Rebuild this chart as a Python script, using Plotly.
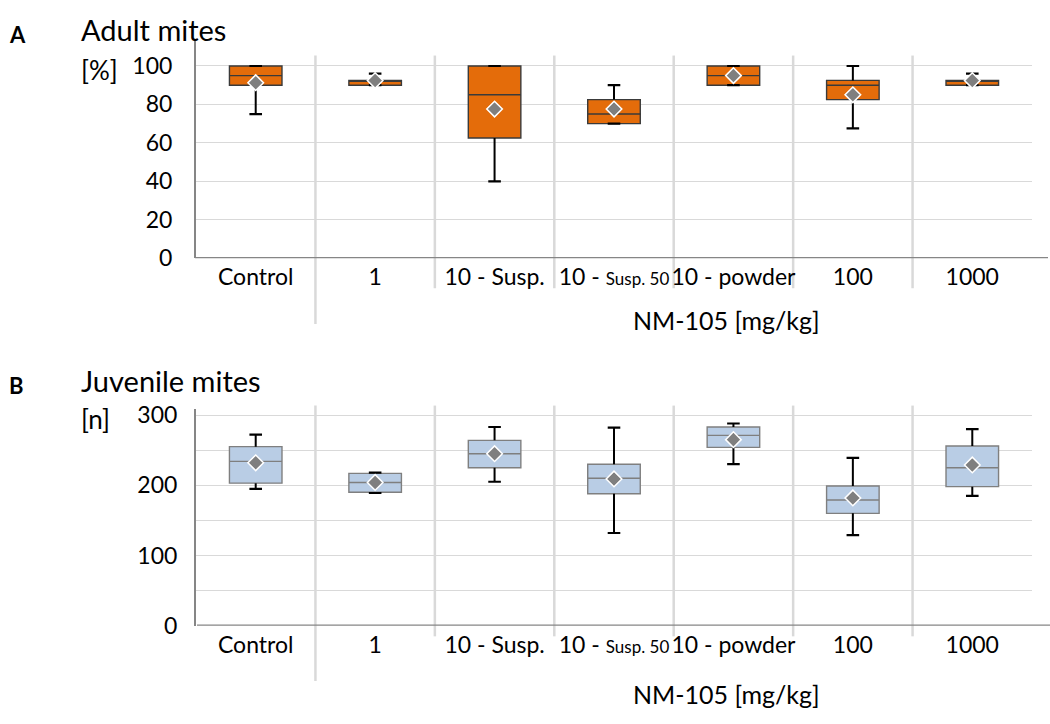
import plotly.graph_objects as go

# ---------------- data ----------------
categories = ["Control", "1", "10 - Susp.", "10 - Susp. 50", "10 - powder", "100", "1000"]
tick_labels = ["Control", "1", "10 - Susp.",
               "10 - <span style='font-size:17px'>Susp. 50</span>",
               "10 - powder", "100", "1000"]

adult_lower = [75, 90, 40, 70, 90, 67.5, 90]
adult_q1 = [90, 90, 62.5, 70, 90, 82.5, 90]
adult_median = [95, 92.5, 85, 75, 95, 90, 92.5]
adult_q3 = [100, 92.5, 100, 82.5, 100, 92.5, 92.5]
adult_upper = [100, 96, 100, 90, 100, 100, 96]
adult_mean = [91.3, 92.4, 77.6, 77.6, 95, 85, 92.4]

juv_lower = [195, 189, 205, 132, 230, 129, 185]
juv_q1 = [203, 190, 225, 188, 254, 160, 198]
juv_median = [234, 204, 245, 210, 271, 179, 225]
juv_q3 = [255, 217, 264, 230, 283, 199, 256]
juv_upper = [272, 218, 283, 282, 288, 239, 280]
juv_mean = [232, 204, 245, 209, 265, 182, 229]

adult_yticks = [0, 20, 40, 60, 80, 100]
juv_yticks = [0, 50, 100, 150, 200, 250, 300]
juv_yticklabels = ["0", "", "100", "", "200", "", "300"]

# ---------------- layout helpers ----------------
W, H = 1050, 724
ML = 196
MR = W - 1032
PW = W - ML - MR


def px_x(px):
    return (px - ML) / PW


def px_y(py):
    return (H - py) / H


FONT = "Lato"
ORANGE = "#E46C0A"
BLUE = "#B9CDE5"
GRID = "#D9D9D9"
AXIS = "#868686"
TICK = 23

fig = go.Figure()


def add_panel(xa, ya, lower, q1, med, q3, upper, mean, fill, edge):
    fig.add_trace(go.Box(
        x=categories, q1=q1, median=med, q3=q3,
        lowerfence=q1, upperfence=q3,
        fillcolor=fill, line=dict(color=edge, width=1.4),
        whiskerwidth=0, width=0.44, boxpoints=False,
        xaxis=xa, yaxis=ya, showlegend=False, hoverinfo="skip"))
    wx, wy = [], []
    for c, lo, a, b, hi in zip(categories, lower, q1, q3, upper):
        wx += [c, c, None, c, c, None]
        wy += [b, hi, None, a, lo, None]
    fig.add_trace(go.Scatter(
        x=wx, y=wy, mode="lines", line=dict(color="black", width=2),
        xaxis=xa, yaxis=ya, showlegend=False, hoverinfo="skip"))
    fig.add_trace(go.Scatter(
        x=categories + categories, y=list(upper) + list(lower), mode="markers",
        marker=dict(symbol="line-ew", size=9, line=dict(color="black", width=2.2)),
        xaxis=xa, yaxis=ya, showlegend=False, hoverinfo="skip"))
    fig.add_trace(go.Scatter(
        x=categories, y=mean, mode="markers",
        marker=dict(symbol="diamond", size=12, color="#7F7F7F",
                    line=dict(color="white", width=1.5)),
        xaxis=xa, yaxis=ya, showlegend=False, hoverinfo="skip"))


add_panel("x", "y", adult_lower, adult_q1, adult_median, adult_q3, adult_upper,
          adult_mean, ORANGE, "#3A3A3A")
add_panel("x2", "y2", juv_lower, juv_q1, juv_median, juv_q3, juv_upper,
          juv_mean, BLUE, "#7F7F7F")

xcommon = dict(type="category", categoryorder="array", categoryarray=categories,
               tickmode="array", tickvals=categories, ticktext=tick_labels,
               range=[-0.5, 6.5], showgrid=False, zeroline=False, showline=False,
               ticks="", ticklabelstandoff=3, tickangle=0,
               tickfont=dict(family=FONT, size=TICK, color="black"))

fig.update_layout(
    width=W, height=H,
    margin=dict(l=ML, r=MR, t=0, b=0),
    paper_bgcolor="white", plot_bgcolor="white",
    font=dict(family=FONT, color="black"),
    xaxis=dict(anchor="y", domain=[0, 1], **xcommon),
    xaxis2=dict(anchor="y2", domain=[0, 1], **xcommon),
    yaxis=dict(anchor="x", domain=[px_y(257), px_y(33)], range=[0, 113],
               tickmode="array", tickvals=adult_yticks,
               showgrid=True, gridcolor=GRID, gridwidth=1, zeroline=False,
               showline=True, linecolor=AXIS, linewidth=2, ticks="",
               ticklabelstandoff=17,
               tickfont=dict(family=FONT, size=TICK, color="black")),
    yaxis2=dict(anchor="x2", domain=[px_y(636), px_y(413)], range=[0, 308],
                tickmode="array", tickvals=juv_yticks, ticktext=juv_yticklabels,
                showgrid=True, gridcolor=GRID, gridwidth=1, zeroline=False,
                showline=True, linecolor=AXIS, linewidth=2, ticks="",
                ticklabelstandoff=12,
                tickfont=dict(family=FONT, size=TICK, color="black")),
)

shapes = []
# category separators
for i in range(6):
    shapes.append(dict(type="line", xref="x", yref="paper", x0=i + 0.5, x1=i + 0.5,
                       y0=px_y(48), y1=px_y(325 if i == 0 else 288),
                       line=dict(color=GRID, width=2.5), layer="below"))
    shapes.append(dict(type="line", xref="x2", yref="paper", x0=i + 0.5, x1=i + 0.5,
                       y0=px_y(409), y1=px_y(693 if i == 0 else 647),
                       line=dict(color=GRID, width=2.5), layer="below"))
# extended x axis lines
shapes.append(dict(type="line", xref="paper", yref="y", x0=px_x(195), x1=px_x(1048),
                   y0=0, y1=0, line=dict(color=AXIS, width=2.5)))
shapes.append(dict(type="line", xref="paper", yref="y2", x0=px_x(197), x1=px_x(1050),
                   y0=0, y1=0, line=dict(color=AXIS, width=2.5)))
fig.update_layout(shapes=shapes)

ann = []


def text(px, py, s, size, bold=False, xanchor="left"):
    ann.append(dict(xref="paper", yref="paper", x=px_x(px), y=px_y(py),
                    text=f"<b>{s}</b>" if bold else s, showarrow=False,
                    xanchor=xanchor, yanchor="middle",
                    font=dict(family=FONT, size=size, color="black")))


text(7, 26, "A", 22, bold=True)
text(79, 21, "Adult mites", 29)
text(79, 63, "[%]", 26)
text(726, 321, "NM-105 [mg/kg]", 25, xanchor="center")

text(7, 388, "B", 22, bold=True)
text(79, 383, "Juvenile mites", 29)
text(79, 423, "[n]", 26)
text(726, 706, "NM-105 [mg/kg]", 25, xanchor="center")

fig.update_layout(annotations=ann)

fig.write_html(
    "out.html",
    config={"displayModeBar": False},
    post_script="document.body.style.margin='0';document.body.style.overflow='hidden';",
)
